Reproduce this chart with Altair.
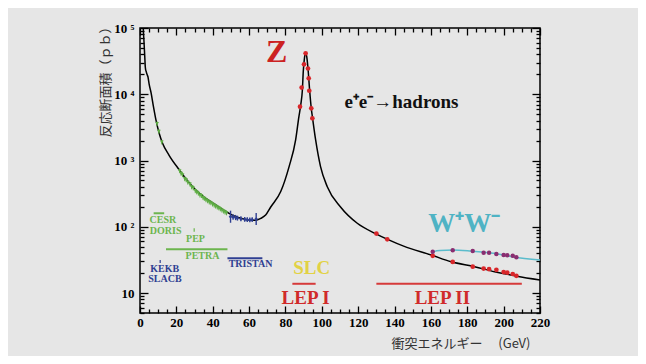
import altair as alt
import pandas as pd

# ---------------- data ----------------
# theory curve e+e- -> hadrons (black)
curve_E = [1.6, 1.8, 2.2, 2.6, 2.9, 3.1, 3.4, 3.8, 4.4, 5.0, 6.1, 7.4, 8.8, 10.5, 12.4,
           16.0, 21.6, 26.0, 30.7, 36.0, 41.7, 46.0, 50.8, 56.0, 60.0, 63.7, 66.4, 69.1,
           71.9, 77.4, 82.0, 85.6, 87.4, 88.4, 89.3, 89.8, 90.5, 91.1, 91.7, 92.4, 93.3,
           94.2, 94.8, 96.6, 99.3, 103.0, 110.3, 119.5, 129.5, 136.5, 145.0, 160.2, 171.2,
           184.0, 195.0, 207.3, 220.0]
curve_sigma = [160000, 100000, 62000, 38000, 26000, 23500, 22000, 20200, 18200, 14300,
               10500, 6500, 4060, 2600, 1820, 1200, 724, 500, 359, 270, 214, 178, 150, 133,
               127, 126, 134, 150, 199, 340, 810, 2045, 4600, 6900, 11500, 22000, 36000,
               42000, 37000, 24500, 11500, 6140, 4600, 2045, 810, 403, 199, 113, 79, 64, 51,
               37.5, 29.6, 25.0, 21.0, 18.0, 15.8]

# W+W- curve (cyan)
ww_curve_E = [160.4, 160.9, 162.0, 165.0, 172.0, 182.0, 194.5, 205.4, 220.0]
ww_curve_sigma = [37.0, 40.5, 42.5, 44.0, 44.6, 43.0, 39.8, 35.0, 31.6]

# low energy data (green)
green_E = [9.4, 10.4, 12.0, 21.8, 22.6, 23.4, 24.6, 25.4, 26.3, 27.5, 28.4, 29.3, 30.4,
           31.2, 32.1, 33.0, 33.8, 34.7, 35.4, 36.3, 37.2, 38.1, 39.0, 39.9, 40.8, 41.6,
           42.5, 43.4, 44.2, 45.1, 46.0, 46.8, 47.6]
green_sigma = [3600, 2750, 1900, 700, 640, 610, 530, 510, 470, 440, 400, 385, 350, 335,
               320, 300, 295, 275, 268, 255, 246, 236, 230, 220, 212, 205, 198, 192, 186,
               178, 172, 166, 162]

# TRISTAN data (blue)
blue_E = [49.8, 51.2, 52.6, 53.6, 55.5, 57.6, 59.0, 60.4, 61.7, 63.9]
blue_sigma = [142, 141, 138, 135, 132, 129, 128, 127, 128, 131]
blue_lo = [115, 128, 126, 124, 121, 119, 118, 117, 118, 106]
blue_hi = [175, 155, 151, 147, 144, 140, 139, 138, 139, 161]

# Z peak data (red)
z_E = [88.0, 88.9, 90.2, 91.1, 92.4, 92.8, 93.1, 94.2, 94.8]
z_sigma = [6500, 12600, 28300, 41500, 24500, 17400, 11300, 6140, 4340]

# LEP II hadron data (red)
lep2_E = [130, 136, 161, 172, 183, 189, 192, 196, 200, 202, 205, 207]
lep2_sigma = [79, 64.6, 36.5, 29.5, 25.0, 23.4, 22.9, 22.4, 20.7, 20.3, 19.4, 18.2]

# W+W- data (purple)
ww_E = [161, 172, 183, 189, 192, 196, 200, 202, 205, 207]
ww_sigma = [42.0, 44.1, 43.0, 40.7, 40.7, 38.9, 37.5, 37.1, 36.5, 34.7]

# accelerator energy ranges
seg_name = ["CESR", "PETRA", "TRISTAN", "LEP I", "LEP II"]
seg_E1 = [7.5, 14.3, 48.1, 83.8, 130.0]
seg_E2 = [13.3, 48.1, 67.3, 96.6, 210.0]
seg_sigma = [160, 45.7, 33.4, 13.8, 13.8]
seg_color = ["#6cb54e", "#6cb54e", "#2f3f92", "#d63a3a", "#d63a3a"]

tick_name = ["PEP", "KEKB"]
tick_E = [29.8, 11.1]
tick_lo = [84, 28.4]
tick_hi = [95, 31.5]
tick_color = ["#6cb54e", "#2f3f92"]

# annotations
ann_text = ["Z", "e⁺e⁻→hadrons", "W⁺W⁻", "SLC", "LEP I", "LEP II", "CESR", "DORIS",
            "PEP", "PETRA", "TRISTAN", "KEKB", "SLACB"]
ann_E = [75.2, 143.8, 178.4, 94.4, 91.1, 166.3, 12.6, 14.1, 30.5, 34.4, 60.8, 13.6, 13.7]
ann_sigma = [43500, 7640, 110, 23.8, 8.4, 8.4, 126, 85.0, 65.3, 36.2, 27.1, 23.2, 16.2]
ann_color = ["#cc2222", "#111111", "#4fb3c4", "#e2d244", "#d02a2a", "#d02a2a", "#6cb54e",
             "#6cb54e", "#6cb54e", "#6cb54e", "#2f3f92", "#2f3f92", "#2f3f92"]
ann_size = [32, 19, 27, 19, 19, 19, 10, 10, 10, 10, 10, 10, 10]

x_tick_vals = list(range(0, 221, 5))
y_tick_vals = [5, 6, 7, 8, 9] + [m * 10 ** k for k in range(1, 5) for m in range(1, 10)] + [100000]

# ---------------- build ----------------
bg = "#e6e6e6"
x_scale = alt.Scale(domain=[0, 220], nice=False, zero=False)
y_scale = alt.Scale(type="log", domain=[5, 100000], nice=False)

major_x = "datum.value % 20 == 0"
major_y = ("datum.value == 10 || datum.value == 100 || datum.value == 1000 || "
           "datum.value == 10000 || datum.value == 100000")
y_label_expr = ("datum.value == 10 ? '10' : datum.value == 100 ? '10 ²' : "
                "datum.value == 1000 ? '10 ³' : datum.value == 10000 ? '10 ⁴' : "
                "datum.value == 100000 ? '10 ⁵' : ''")


def x_axis(orient, labels, title=None):
    kw = dict(orient=orient, values=x_tick_vals, labels=labels, domain=False, grid=False,
              tickColor="black", tickWidth=1.3,
              tickSize={"condition": {"test": major_x, "value": -7}, "value": -4},
              labelExpr="datum.value % 20 == 0 ? datum.value : ''",
              labelFont="Liberation Serif", labelFontWeight="bold", labelFontSize=13,
              labelColor="black", labelPadding=10, labelOverlap=False, labelFlush=False)
    if title:
        kw.update(title=title, titleFont="Noto Sans CJK JP", titleFontSize=13,
                  titleFontWeight="normal", titleColor="#333333", titleAnchor="end",
                  titleAlign="right", titleX=390, titleY=30, titleBaseline="middle")
    else:
        kw.update(title=None)
    return alt.Axis(**kw)


def y_axis(orient, labels, title=None):
    kw = dict(orient=orient, values=y_tick_vals, labels=labels, domain=False, grid=False,
              tickColor="black", tickWidth=1.3,
              tickSize={"condition": {"test": major_y, "value": -8}, "value": -4},
              labelExpr=y_label_expr,
              labelFont="Liberation Serif", labelFontWeight="bold", labelFontSize=13,
              labelColor="black", labelPadding=14, labelOverlap=False, labelFlush=False)
    if title:
        kw.update(title=title, titleFont="Noto Sans CJK JP", titleFontSize=13,
                  titleFontWeight="normal", titleColor="#333333", titleAngle=270,
                  titleAlign="right", titleX=-35, titleY=-8, titleBaseline="middle")
    else:
        kw.update(title=None)
    return alt.Axis(**kw)


curve_df = pd.DataFrame({"E": curve_E, "sigma": curve_sigma})

main = alt.Chart(curve_df).mark_line(color="black", strokeWidth=1.5, clip=True,
                                     interpolate="monotone").encode(
    x=alt.X("E:Q", scale=x_scale, axis=x_axis("bottom", True, "衝突エネルギー　 (GeV)")),
    y=alt.Y("sigma:Q", scale=y_scale, axis=y_axis("left", True, "反応断面積（ｐｂ）")),
)

frame = alt.Chart(curve_df).mark_line(opacity=0).encode(
    x=alt.X("E:Q", scale=x_scale, axis=x_axis("top", False)),
    y=alt.Y("sigma:Q", scale=y_scale, axis=y_axis("right", False)),
)

X = lambda f: alt.X(f, scale=x_scale, axis=None)
Y = lambda f: alt.Y(f, scale=y_scale, axis=None)

ww_line = alt.Chart(pd.DataFrame({"E": ww_curve_E, "sigma": ww_curve_sigma})).mark_line(
    color="#5bbccc", strokeWidth=1.5, interpolate="monotone").encode(x=X("E:Q"), y=Y("sigma:Q"))

green_df = pd.DataFrame({"E": green_E, "sigma": green_sigma,
                         "lo": [v * 0.92 for v in green_sigma],
                         "hi": [v * 1.08 for v in green_sigma]})
green_err = alt.Chart(green_df).mark_rule(color="#5fae45", strokeWidth=1).encode(
    x=X("E:Q"), y=Y("lo:Q"), y2="hi:Q")
green_pts = alt.Chart(green_df).mark_point(shape="triangle-down", filled=True, size=14,
                                           color="#5fae45", opacity=1).encode(
    x=X("E:Q"), y=Y("sigma:Q"))

blue_df = pd.DataFrame({"E": blue_E, "sigma": blue_sigma, "lo": blue_lo, "hi": blue_hi})
blue_err = alt.Chart(blue_df).mark_rule(color="#2f3f92", strokeWidth=1.4).encode(
    x=X("E:Q"), y=Y("lo:Q"), y2="hi:Q")
blue_pts = alt.Chart(blue_df).mark_point(shape="diamond", filled=True, size=14,
                                         color="#2f3f92", opacity=1).encode(
    x=X("E:Q"), y=Y("sigma:Q"))

red_df = pd.DataFrame({"E": z_E + lep2_E, "sigma": z_sigma + lep2_sigma})
red_pts = alt.Chart(red_df).mark_circle(size=22, color="#d8262a", opacity=1).encode(
    x=X("E:Q"), y=Y("sigma:Q"))

ww_pts = alt.Chart(pd.DataFrame({"E": ww_E, "sigma": ww_sigma})).mark_circle(
    size=20, color="#8a2d70", opacity=1).encode(x=X("E:Q"), y=Y("sigma:Q"))

seg_df = pd.DataFrame({"name": seg_name, "E1": seg_E1, "E2": seg_E2, "sigma": seg_sigma,
                       "col": seg_color})
segs = alt.Chart(seg_df).mark_rule(strokeWidth=2).encode(
    x=X("E1:Q"), x2="E2:Q", y=Y("sigma:Q"), color=alt.Color("col:N", scale=None))

tick_df = pd.DataFrame({"name": tick_name, "E": tick_E, "lo": tick_lo, "hi": tick_hi,
                        "col": tick_color})
ticks = alt.Chart(tick_df).mark_rule(strokeWidth=1.2).encode(
    x=X("E:Q"), y=Y("lo:Q"), y2="hi:Q", color=alt.Color("col:N", scale=None))

ann_df = pd.DataFrame({"text": ann_text, "E": ann_E, "sigma": ann_sigma,
                       "col": ann_color, "fs": ann_size})
texts = alt.Chart(ann_df).mark_text(font="Liberation Serif", fontWeight="bold",
                                    align="center", baseline="middle").encode(
    x=X("E:Q"), y=Y("sigma:Q"), text="text:N",
    color=alt.Color("col:N", scale=None), size=alt.Size("fs:Q", scale=None))

chart = alt.layer(
    main, frame, ww_line, green_err, green_pts, blue_err, blue_pts, red_pts, ww_pts,
    segs, ticks, texts
).resolve_axis(x="independent", y="independent").properties(
    width=400, height=285,
    autosize=alt.AutoSizeParams(type="none"),
    padding={"left": 132, "top": 20, "right": 98, "bottom": 43},
    background=bg,
).configure_view(stroke="black", strokeWidth=1.5, fill=bg)

chart.save("out.html", embed_options={"renderer": "svg", "actions": False})
